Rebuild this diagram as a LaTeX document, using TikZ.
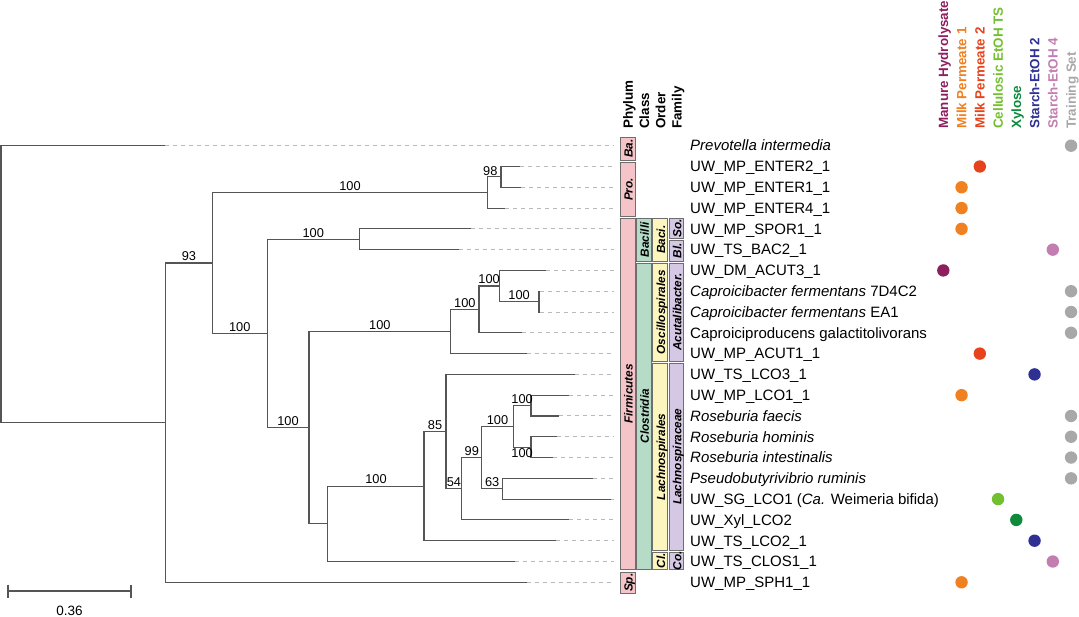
\documentclass[tikz,border=0pt]{standalone}
\usepackage{fontspec}
\setmainfont{Liberation Sans}
\usetikzlibrary{calc}
\definecolor{treegray}{HTML}{555555}
\definecolor{dashgray}{HTML}{B9B9B9}
\definecolor{framegray}{HTML}{6E6E6E}
\definecolor{phy}{HTML}{F5C4C9}
\definecolor{cls}{HTML}{B6DBC6}
\definecolor{ord}{HTML}{FDF5BE}
\definecolor{fam}{HTML}{D5C8E4}
\definecolor{col1}{HTML}{8E1F5F}
\definecolor{col2}{HTML}{F08020}
\definecolor{col3}{HTML}{E6421B}
\definecolor{col4}{HTML}{72BF2F}
\definecolor{col5}{HTML}{0D8A3C}
\definecolor{col6}{HTML}{2E3192}
\definecolor{col7}{HTML}{C37DB0}
\definecolor{col8}{HTML}{A8A8A8}
\tikzset{>=stealth,
  branch/.style={draw=treegray, line width=1.1pt},
  tipline/.style={draw=dashgray, line width=1pt, dash pattern=on 4pt off 4pt},
  support/.style={font=\fontsize{12.8}{13}\selectfont, inner sep=1.5pt, anchor=south},
  tiplabel/.style={font=\fontsize{15}{16}\selectfont, inner sep=0pt, anchor=base west},
  header/.style={font=\fontsize{13.4}{13}\selectfont\bfseries, rotate=90, inner sep=0pt, anchor=base west},
  taxframe/.style={draw=framegray, line width=0.9pt},
  taxtext/.style={font=\fontsize{11.8}{12}\selectfont\bfseries\itshape, rotate=90, inner sep=0pt,
    text height=8.5pt, text depth=0pt},
  dot/.style={circle, inner sep=0pt, minimum size=12.4pt},
  scalebar/.style={draw=treegray, line width=1.1pt}}
% one clade: name, x, upper child, lower child, support of upper, support of lower
\newcommand\clade[6]{%
  \path ($(#3)!0.5!(#4)$) coordinate (#1m);
  \coordinate (#1) at (#2,0 |- #1m);
  \draw[branch] (#3) -| node[pos=.25,support]{#5} (#1) |- node[pos=.75,support]{#6} (#4);
}

\begin{document}
\begin{tikzpicture}[x=1pt, y=-1pt]
    \useasboundingbox (0,0) rectangle (1079,617);
    % tips
    \foreach \i/\e in {1/165.4,2/519.6,3/521.3,4/505,5/470.7,6/458.7,7/546,8/540,9/540,10/521.7,11/526.7,
        12/575,13/569.3,14/558.7,15/556.7,16/552.7,17/592.7,18/610.7,19/569.3,20/556,21/515,22/526.7}{
        \coordinate (t\i) at (\e,{145.7+(\i-1)*20.79});
        \coordinate (d\i) at (614,{145.7+(\i-1)*20.79});
        \draw[tipline] (t\i) -- (d\i);
    }
    % clades, tips first
    \clade{E}{501}{t2}{t3}{}{}
    \clade{C}{487.5}{E}{t4}{}{}
    \path (E) -| node[pos=.25,support,xshift=-4pt]{98} (C);
    \clade{L}{539}{t8}{t9}{}{}
    \clade{K}{499.3}{t7}{L}{}{100}
    \clade{J}{479}{K}{t10}{100}{}
    \clade{H}{450.7}{J}{t11}{100}{}
    \clade{F}{359.3}{t5}{t6}{}{}
    \clade{S}{531}{t13}{t14}{}{}
    \clade{T}{531}{t15}{t16}{}{}
    \clade{Q}{513.2}{S}{T}{100}{}
    \clade{R}{502.5}{t17}{t18}{}{}
    \clade{P}{481.8}{Q}{R}{100}{63}
    \clade{O}{461.8}{P}{t19}{99}{}
    \clade{N}{446}{t12}{O}{}{54}
    \clade{M}{424}{N}{t20}{85}{}
    \clade{I}{327.9}{M}{t21}{100}{}
    \clade{G}{309}{H}{I}{100}{}
    \clade{D}{267.1}{F}{G}{100}{100}
    \clade{B}{212.5}{C}{D}{100}{100}
    \clade{A}{165.4}{B}{t22}{93}{}
    \clade{root}{1}{t1}{A}{}{}
    \path (Q) |- node[pos=.75,support,anchor=north]{100} (T);
    % taxonomy bars
    \foreach \c/\t/\b/\cl/\lab in {1/137.5/160/phy/Ba., 1/162.5/216.5/phy/Pro., 1/218.5/569.5/phy/Firmicutes,
        1/572.5/593/phy/Sp., 2/218.5/261/cls/Bacilli, 2/263/569.5/cls/Clostridia,
        3/218.5/261/ord/Baci., 3/263/361.5/ord/Oscillospirales, 3/363.5/550/ord/Lachnospirales,
        3/552/569.5/ord/Cl., 4/218.5/238.5/fam/So., 4/240.5/261/fam/Bl.,
        4/263/361.5/fam/Acutalibacter., 4/363.5/550/fam/Lachnospiraceae, 4/552/569.5/fam/Co.}{
        \draw[taxframe, fill=\cl] ({620.5+16.2*(\c-1)},\t) rectangle ({635.3+16.2*(\c-1)},\b);
        \node[taxtext] at ({628.4+16.2*(\c-1)},{(\t+\b)/2}) {\lab};
    }
    \foreach \c/\txt in {1/Phylum,2/Class,3/Order,4/Family}
        \node[header] (rank\c) at ({632.9+(\c-1)*16.2},129) {\txt};
    % tip labels and sources
    \foreach \i/\c/\txt in {1/8/{\textit{Prevotella intermedia}}, 2/3/UW\_MP\_ENTER2\_1, 3/2/UW\_MP\_ENTER1\_1,
        4/2/UW\_MP\_ENTER4\_1, 5/2/UW\_MP\_SPOR1\_1, 6/7/UW\_TS\_BAC2\_1, 7/1/UW\_DM\_ACUT3\_1,
        8/8/{\textit{Caproicibacter fermentans} 7D4C2}, 9/8/{\textit{Caproicibacter fermentans} EA1},
        10/8/Caproiciproducens galactitolivorans, 11/3/UW\_MP\_ACUT1\_1, 12/6/UW\_TS\_LCO3\_1,
        13/2/UW\_MP\_LCO1\_1, 14/8/{\textit{Roseburia faecis}}, 15/8/{\textit{Roseburia hominis}},
        16/8/{\textit{Roseburia intestinalis}}, 17/8/{\textit{Pseudobutyrivibrio ruminis}},
        18/4/{UW\_SG\_LCO1 (\textit{Ca.} Weimeria bifida)}, 19/5/UW\_Xyl\_LCO2, 20/6/UW\_TS\_LCO2\_1,
        21/7/UW\_TS\_CLOS1\_1, 22/2/UW\_MP\_SPH1\_1}{
        \node[tiplabel] (n\i) at (690,{151.0+(\i-1)*20.79}) {\txt};
        \node[dot, fill=col\c] (p\i) at ({943.3+(\c-1)*18.25},{145.7+(\i-1)*20.79}) {};
    }
    \foreach \c/\txt in {1/Manure Hydrolysate,2/Milk Permeate 1,3/Milk Permeate 2,4/Cellulosic EtOH TS,
        5/Xylose,6/Starch-EtOH 2,7/Starch-EtOH 4,8/Training Set}
        \node[header, text=col\c] (h\c) at ({948.1+(\c-1)*18.25},129) {\txt};
    % scale bar
    \coordinate (s0) at (8,591);
    \coordinate (s1) at (131,591);
    \draw[scalebar] (s0) -- (s1);
    \draw[scalebar] ([yshift=6.5pt]s0) -- ([yshift=-6.5pt]s0);
    \draw[scalebar] ([yshift=6.5pt]s1) -- ([yshift=-6.5pt]s1);
    \node[font=\fontsize{13.5}{14}\selectfont] (scale) at (69.5,611) {0.36};
\end{tikzpicture}
\end{document}
